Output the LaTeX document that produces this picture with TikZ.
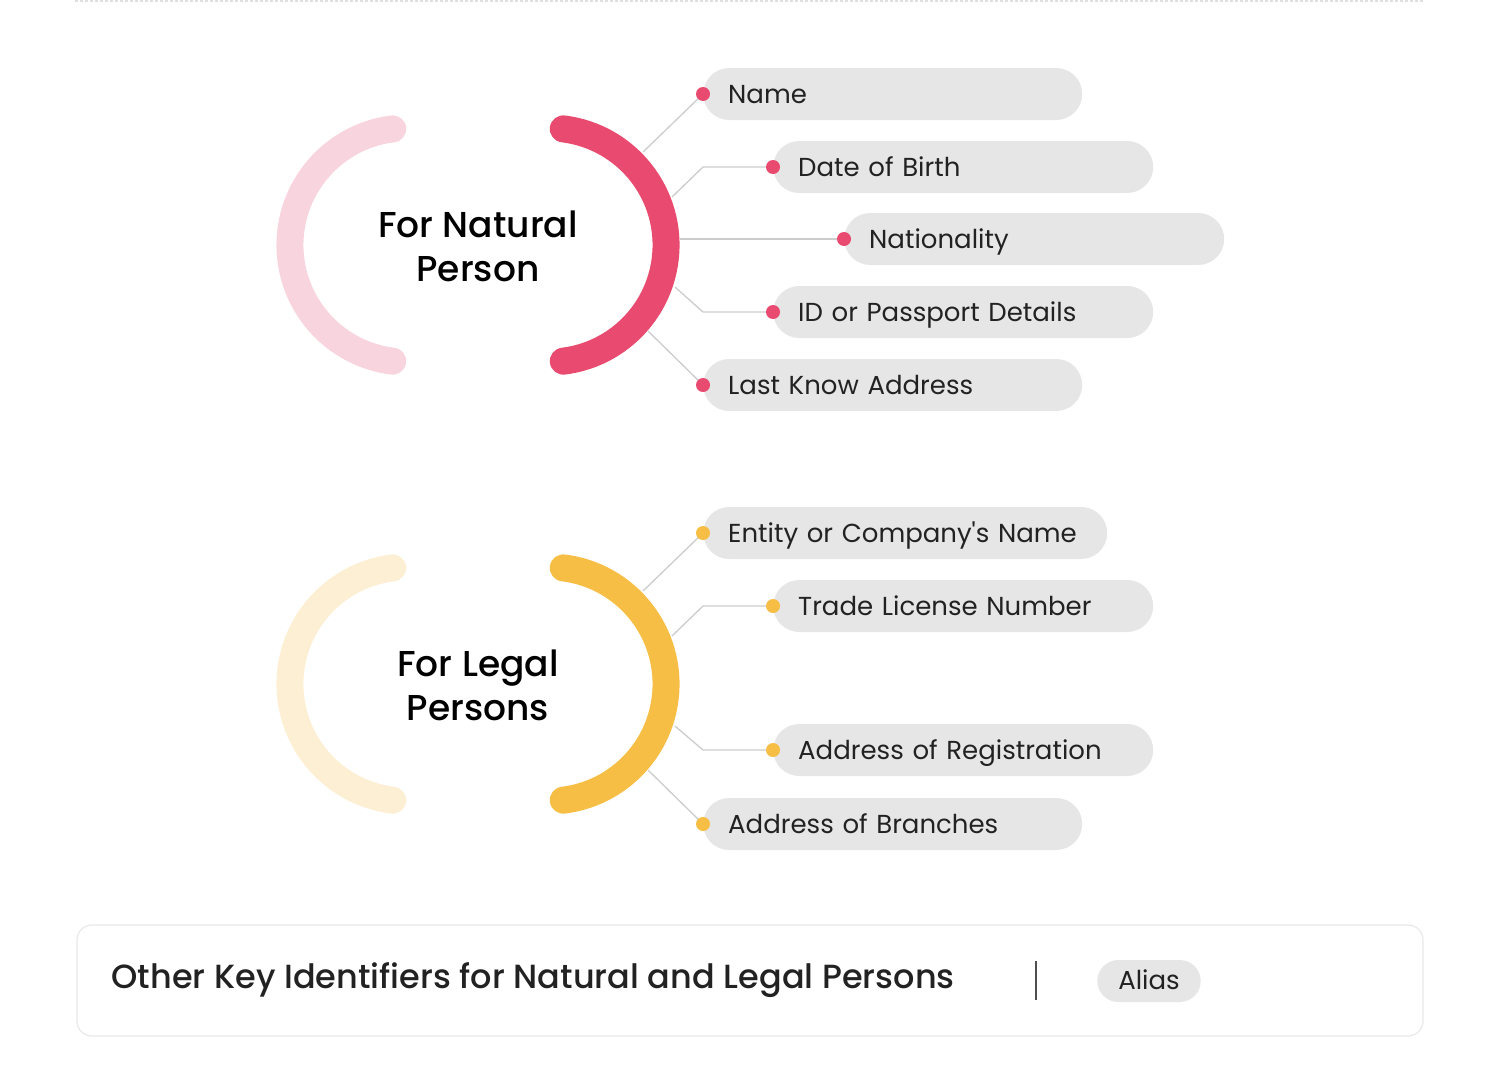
\documentclass[tikz,border=0pt]{standalone}
\usepackage{fontspec}
\setmainfont{Poppins}[Ligatures=TeXOff]
\newfontfamily\headfont{Poppins Medium}
\usepackage{tikz}

\definecolor{rosebold}{RGB}{233,74,111}
\definecolor{rosefaint}{RGB}{248,212,222}
\definecolor{goldbold}{RGB}{247,190,69}
\definecolor{goldfaint}{RGB}{253,239,211}
\definecolor{pillgray}{RGB}{230,230,230}
\definecolor{linkgray}{RGB}{204,204,204}
\definecolor{inkdark}{RGB}{34,34,34}

\begin{document}
\begin{tikzpicture}[x=1pt,y=1pt,
  ring/.style={line width=27pt,line cap=round},
  link/.style={draw=linkgray,line width=1.3pt},
  pill/.style={anchor=west,fill=pillgray,rounded corners=26pt,minimum height=52pt,
    inner xsep=25pt,inner ysep=0pt,align=left,text=inkdark,text height=22pt,text depth=3pt,
    font=\fontsize{26}{30}\selectfont},
  dot/.style={circle,fill=#1,minimum size=14pt,inner sep=0pt},
  headline/.style={align=center,text=black,font=\headfont\fontsize{36}{44}\selectfont}]
  \useasboundingbox (0,0) rectangle (1500,-1068);
  \draw[gray!25,line width=2pt,dash pattern=on 3pt off 2pt] (75,-1) -- (1425,-1);

  \draw[ring,color=rosefaint] (392.7,-128.9) arc[start angle=97,end angle=263,radius=117];
  \draw[ring,color=rosebold] (563.3,-128.9) arc[start angle=83,end angle=-83,radius=117];
  \node[headline] (natural) at (478,-246) {For Natural\\Person};

  \node[pill,text width=329pt] (name) at (703,-94) {Name};
  \node[pill,text width=330pt] (birth) at (773,-167) {Date of Birth};
  \node[pill,text width=330pt] (nation) at (844,-239) {Nationality};
  \node[pill,text width=330pt] (passport) at (773,-312) {ID or Passport Details};
  \node[pill,text width=329pt] (address) at (703,-385) {Last Know Address};

  \coordinate (np-a1) at (643,-152);
  \coordinate (np-a2) at (672,-197);
  \coordinate (np-a3) at (680,-239);
  \coordinate (np-a4) at (675,-287);
  \coordinate (np-a5) at (648,-331);
  \draw[link] (np-a1) -- (name.west);
  \draw[link] (np-a2) -- (name.west |- birth.west) -- (birth.west);
  \draw[link] (np-a3) -- (nation.west);
  \draw[link] (np-a4) -- (address.west |- passport.west) -- (passport.west);
  \draw[link] (np-a5) -- (address.west);
  \foreach \n in {name,birth,nation,passport,address}
    \node[dot=rosebold] (\n-d) at (\n.west) {};

  \draw[ring,color=goldfaint] (392.7,-567.9) arc[start angle=97,end angle=263,radius=117];
  \draw[ring,color=goldbold] (563.3,-567.9) arc[start angle=83,end angle=-83,radius=117];
  \node[headline] (legal) at (478,-685) {For Legal\\Persons};

  \node[pill,text width=354pt] (entity) at (703,-533) {Entity or Company's Name};
  \node[pill,text width=330pt] (trade) at (773,-606) {Trade License Number};
  \node[pill,text width=330pt] (regist) at (773,-750) {Address of Registration};
  \node[pill,text width=329pt] (branch) at (703,-824) {Address of Branches};

  \coordinate (lp-a1) at (643,-591);
  \coordinate (lp-a2) at (672,-636);
  \coordinate (lp-a4) at (675,-726);
  \coordinate (lp-a5) at (648,-770);
  \draw[link] (lp-a1) -- (entity.west);
  \draw[link] (lp-a2) -- (entity.west |- trade.west) -- (trade.west);
  \draw[link] (lp-a4) -- (branch.west |- regist.west) -- (regist.west);
  \draw[link] (lp-a5) -- (branch.west);
  \foreach \n in {entity,trade,regist,branch}
    \node[dot=goldbold] (\n-d) at (\n.west) {};

  \draw[color=gray!18,line width=1.2pt,rounded corners=15pt] (77,-925) rectangle (1423,-1036);
  \node[anchor=west,text=inkdark,font=\headfont\fontsize{33.5}{38}\selectfont] (other) at (108,-980)
    {Other Key Identifiers for Natural and Legal Persons};
  \draw[color=inkdark!80,line width=1.3pt] (1036,-961) -- (1036,-1000);
  \node[fill=pillgray,rounded corners=21pt,minimum height=42pt,inner xsep=21pt,inner ysep=0pt,
    text=inkdark,text height=20pt,text depth=4pt,font=\fontsize{26}{30}\selectfont] (alias) at (1149,-981) {Alias};
\end{tikzpicture}
\end{document}
